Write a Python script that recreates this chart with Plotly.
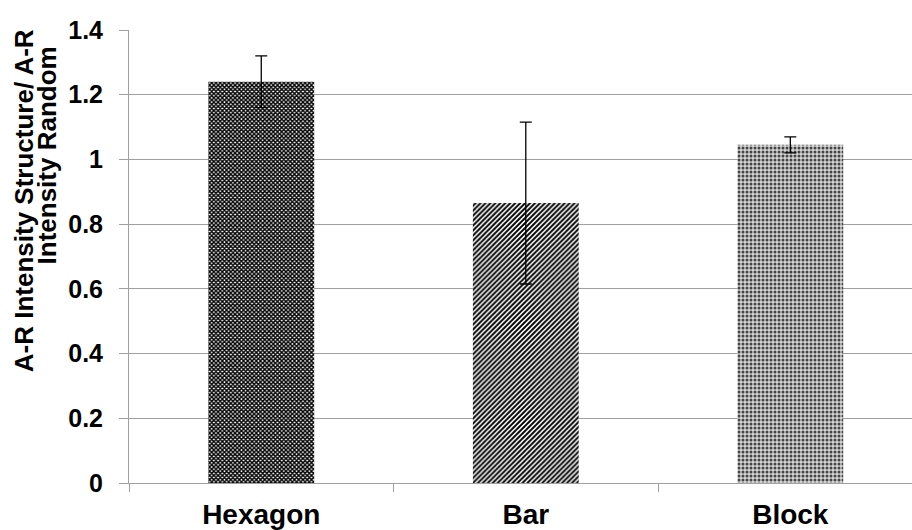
import plotly.graph_objects as go

categories = ["Hexagon", "Bar", "Block"]
values = [1.24, 0.865, 1.045]
errors = [0.08, 0.25, 0.025]
title_line1 = "A-R Intensity Structure/ A-R"
title_line2 = "Intensity Random"

patterns = [
    dict(shape="x", fgcolor="#000000", bgcolor="#ffffff", size=3, solidity=0.7, fillmode="replace"),
    dict(shape="/", fgcolor="#000000", bgcolor="#ffffff", size=3.5, solidity=0.55, fillmode="replace"),
    dict(shape=".", fgcolor="#444444", bgcolor="#d4d4d4", size=4, solidity=0.45, fillmode="replace"),
]

W, H = 912, 530
L, T, B = 129, 30, 45

fig = go.Figure()
for c, v, e, p in zip(categories, values, errors, patterns):
    fig.add_trace(go.Bar(
        x=[c], y=[v],
        marker=dict(color="#ffffff", pattern=p, line=dict(width=0)),
        error_y=dict(type="data", array=[e], color="#000000", thickness=1.3, width=6),
        width=0.4,
        showlegend=False,
    ))

fig.update_layout(
    width=W, height=H,
    margin=dict(l=L, r=0, t=T, b=B, pad=0),
    plot_bgcolor="#ffffff", paper_bgcolor="#ffffff",
    barmode="overlay",
    font=dict(family="Liberation Sans, Arial, sans-serif", color="#000000"),
)
fig.update_xaxes(
    range=[-0.5, 2.46],
    showline=True, linecolor="#a0a0a0", linewidth=1,
    ticks="outside", tickson="boundaries", ticklen=8, tickcolor="#a0a0a0",
    tickfont=dict(size=28, weight="bold"),
    ticklabelstandoff=6,
    showgrid=False,
)
fig.update_yaxes(
    range=[0, 1.4], dtick=0.2,
    showline=True, linecolor="#a0a0a0", linewidth=1,
    ticks="outside", ticklen=9, tickcolor="#a0a0a0",
    showgrid=True, gridcolor="#a0a0a0", gridwidth=1,
    zeroline=False,
    tickfont=dict(size=25, weight="bold"),
    ticklabelstandoff=11,
)

plot_w = W - L
plot_h = H - T - B
def px_to_paper(xp, yp):
    return (xp - L) / plot_w, (H - B - yp) / plot_h

x1, y1 = px_to_paper(23.5, 201.5)
x2, y2 = px_to_paper(47, 156)
fig.add_annotation(text=title_line1, xref="paper", yref="paper", x=x1, y=y1,
                   xanchor="center", yanchor="middle", textangle=-90, showarrow=False,
                   font=dict(size=26, weight="bold"))
fig.add_annotation(text=title_line2, xref="paper", yref="paper", x=x2, y=y2,
                   xanchor="center", yanchor="middle", textangle=-90, showarrow=False,
                   font=dict(size=26, weight="bold"))

fig.write_html("out.html", config={"displayModeBar": False},
               post_script="document.body.style.margin='0';document.documentElement.style.overflow='hidden';")
